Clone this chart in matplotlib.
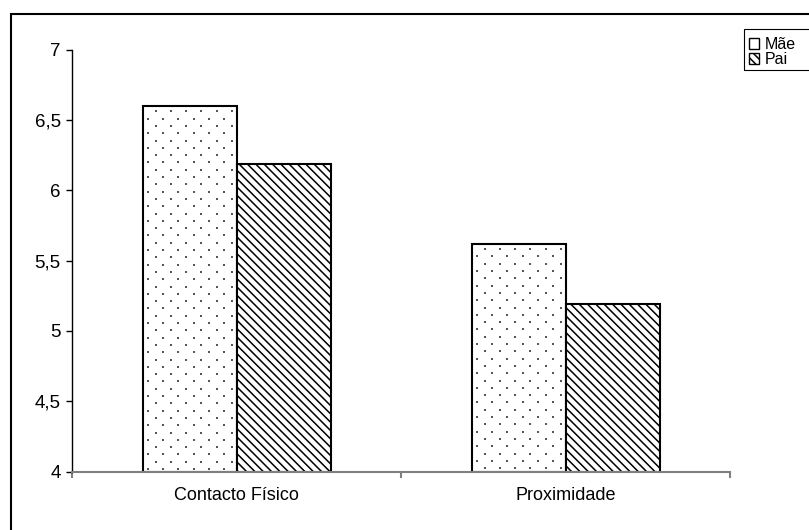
import matplotlib
matplotlib.use('Agg')
import matplotlib.pyplot as plt
import numpy as np
from matplotlib.patches import Rectangle, Patch

categories = ['Contacto Físico', 'Proximidade']
series_names = ['Mãe', 'Pai']
mae = [6.60, 5.62]
pai = [6.19, 5.19]
yticks = [4, 4.5, 5, 5.5, 6, 6.5, 7]
ytick_labels = ['4', '4,5', '5', '5,5', '6', '6,5', '7']
ybase = 4

plt.rcParams['font.family'] = ['Liberation Sans', 'DejaVu Sans']
plt.rcParams['hatch.linewidth'] = 1.1

W, H = 809, 530
fig = plt.figure(figsize=(W / 100, H / 100), dpi=100)
ax = fig.add_axes([72 / W, 1 - 471.5 / H, (730 - 72) / W, (471.5 - 49.7) / H])

x = np.arange(len(categories))
w = 94 / 329
b1 = ax.bar(x - w / 2, np.array(mae) - ybase, w, bottom=ybase, color='white',
            edgecolor='black', linewidth=1.5, zorder=2)
b2 = ax.bar(x + w / 2, np.array(pai) - ybase, w, bottom=ybase, color='white',
            edgecolor='black', linewidth=1.5, hatch='\\\\\\\\', zorder=2)

ax.set_xlim(-0.5, len(categories) - 0.5)
ax.set_ylim(yticks[0], yticks[-1])
ax.set_yticks(yticks)
ax.set_yticklabels(ytick_labels, fontsize=13.5)
ax.set_xticks(np.arange(len(categories) + 1) - 0.5)
ax.set_xticklabels([])
ax.set_xticks(x, minor=True)
ax.set_xticklabels(categories, minor=True, fontsize=13)
ax.tick_params(axis='x', which='major', length=4, width=1.5, color='#808080', direction='out')
ax.tick_params(axis='x', which='minor', length=0, pad=11)
ax.tick_params(axis='y', length=4.3, width=1, color='black', pad=3.8)
for s in ['top', 'right']:
    ax.spines[s].set_visible(False)
ax.spines['left'].set_linewidth(1)
ax.spines['bottom'].set_linewidth(1.5)
ax.spines['bottom'].set_color('#808080')

# dotted texture on the "Mãe" bars
inv = ax.transData.inverted()
for rect in b1:
    x0, y0 = ax.transData.transform((rect.get_x(), rect.get_y()))
    x1, y1 = ax.transData.transform((rect.get_x() + rect.get_width(), rect.get_y() + rect.get_height()))
    pts = []
    row = 0
    yy = y1 - 5.4
    while yy > y0 + 2:
        xx = x0 + (13.0 if row % 2 == 0 else 5.35)
        while xx < x1 - 2:
            pts.append((xx, yy))
            xx += 15.3
        yy -= 7.3
        row += 1
    pts = inv.transform(np.array(pts))
    ax.scatter(pts[:, 0], pts[:, 1], s=2.2, marker='s', color='#555555', linewidths=0, zorder=3)

handles = [Patch(facecolor='white', edgecolor='black', linewidth=1),
           Patch(facecolor='white', edgecolor='black', linewidth=1, hatch='\\\\\\\\')]
ax.legend(handles, series_names, loc='upper left', bbox_to_anchor=(749 / W, 1 - 37 / H),
          bbox_transform=fig.transFigure, frameon=False, fontsize=11.5,
          handlelength=0.65, handleheight=0.65, handletextpad=0.35, labelspacing=0.0,
          borderpad=0, borderaxespad=0)
fig.patches.append(Rectangle((743.7 / W, 1 - 70 / H), 100 / W, (70 - 29) / H,
                             transform=fig.transFigure, fill=False, lw=0.8, edgecolor='black'))
fig.patches.append(Rectangle((10.5 / W, -0.1), 1.2, 1.1 - 14 / H,
                             transform=fig.transFigure, fill=False, lw=1.5, edgecolor='black'))

fig.savefig('out.png', dpi=100)
